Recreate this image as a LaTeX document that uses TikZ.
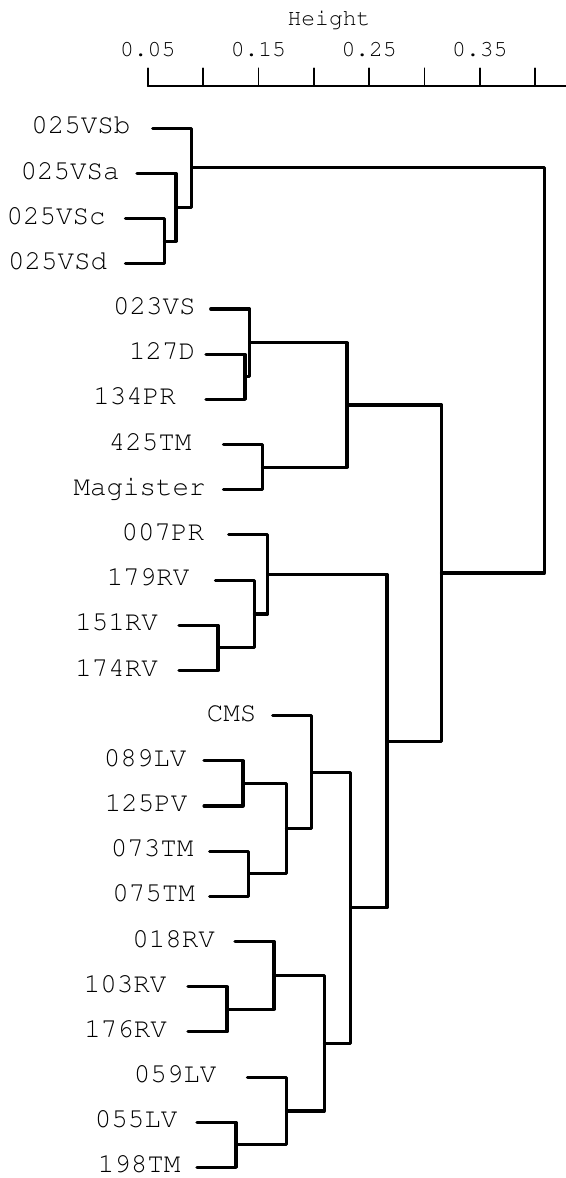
\documentclass[tikz,border=0pt]{standalone}
\usepackage[T1,TU]{fontenc}
\newcommand\courfont[1]{\fontencoding{T1}\fontfamily{pcr}\fontsize{#1}{#1}\selectfont}
\newcommand\labfont{\courfont{27.5}}
\newcommand\axfont{\courfont{23}}
\tikzset{
  leaflabel/.style={font=\labfont, anchor=base, inner sep=0pt},
  axislabel/.style={font=\axfont, anchor=base, inner sep=0pt},
  branch/.style={line width=3.1pt, line cap=round, line join=round},
  axisrule/.style={line width=1.7pt, line cap=round},
}
\begin{document}
\begin{tikzpicture}[x=1pt, y=-1pt]
\useasboundingbox (0,0) rectangle (565,1178);

% ---- height axis ----
\node[axislabel] (title) at (329,25.5) {Height};
\draw[axisrule] (147.7,86) -- (566,86);
\foreach \k in {0,...,7}
  \draw[axisrule] ({147.7+55.35*\k},86) -- ({147.7+55.35*\k},68.3);
\node[axislabel] (t005) at (147.7,56.7) {0.05};
\node[axislabel] (t015) at (258.4,56.7) {0.15};
\node[axislabel] (t025) at (369.1,56.7) {0.25};
\node[axislabel] (t035) at (479.8,56.7) {0.35};

% ---- merge points (height, mid position) ----
\coordinate (A) at (164.5,241.25);
\coordinate (B) at (176,207.4);
\coordinate (C) at (191.7,167.85);
\coordinate (D) at (245,376.8);
\coordinate (E) at (249.7,342.9);
\coordinate (F) at (262.5,467.15);
\coordinate (G) at (347,405.0);
\coordinate (H) at (218,647.9);
\coordinate (I) at (254.4,614.0);
\coordinate (J) at (267.7,574.45);
\coordinate (K) at (243,783.4);
\coordinate (L) at (248.6,873.8);
\coordinate (M) at (286.5,828.6);
\coordinate (N) at (311.7,772.1);
\coordinate (O) at (227,1009.3);
\coordinate (P) at (274,975.4);
\coordinate (Q) at (236,1144.85);
\coordinate (R) at (286.5,1111.0);
\coordinate (S) at (324.3,1043.2);
\coordinate (T) at (350.6,907.65);
\coordinate (U) at (387,741.05);
\coordinate (V) at (441.5,573.0);
\coordinate (W) at (544.5,370.4);

% ---- leaves: label and free end of the hanging branch ----
% (name / text / label centre / branch start / leaf row)
\foreach \name/\txt/\cx/\bx/\y in {
  l01/025VSb/80.8/152.7/128.3,
  l02/025VSa/70/137/173.5,
  l03/025VSc/56.2/125.5/218.7,
  l04/025VSd/57.7/125.5/263.8,
  l05/023VS/154.3/210.7/309.0,
  l06/127D/162/206/354.2,
  l07/134PR/134.5/206/399.4,
  l08/425TM/150/223.5/444.6,
  l09/Magister/139.5/223.5/489.7,
  l10/007PR/162.8/228.7/534.9,
  l11/179RV/148/215.4/580.1,
  l12/151RV/116.5/179/625.3,
  l13/174RV/116.5/179/670.5,
  l14/CMS/231.5/272.7/715.6,
  l15/089LV/145/204/760.8,
  l16/125PV/146/204/806.0,
  l17/073TM/152/209.6/851.2,
  l18/075TM/153.5/209.6/896.4,
  l19/018RV/173.5/235/941.5,
  l20/103RV/125/188/986.7,
  l21/176RV/125.5/188/1031.9,
  l22/059LV/175/247.5/1077.1,
  l23/055LV/136/197/1122.3,
  l24/198TM/139/197/1167.4}{
  \node[leaflabel] (\name-text) at (\cx,\y+5.5) {\txt};
  \coordinate (\name) at (\bx,\y);
}

% ---- branches: child -| parent ----
\foreach \child/\parent in {
  l01/C, l02/B, l03/A, l04/A, A/B, B/C,
  l05/E, l06/D, l07/D, D/E, l08/F, l09/F, E/G, F/G,
  l10/J, l11/I, l12/H, l13/H, H/I, I/J,
  l14/N, l15/K, l16/K, l17/L, l18/L, K/M, L/M, M/N,
  l19/P, l20/O, l21/O, O/P, l22/R, l23/Q, l24/Q, Q/R, P/S, R/S,
  N/T, S/T, J/U, T/U, G/V, U/V, C/W, V/W}
  \draw[branch] (\child) -| (\parent);
\end{tikzpicture}
\end{document}
